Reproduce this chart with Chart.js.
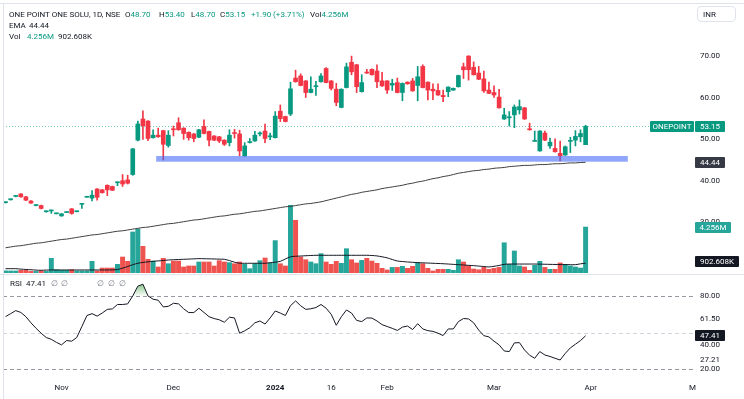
<!DOCTYPE html>
<html>
<head>
<meta charset="utf-8">
<script src="https://cdn.jsdelivr.net/npm/chart.js@4.4.1/dist/chart.umd.min.js"></script>
<style>
body{margin:0;background:#fff;font-family:Roboto,"Noto Sans",sans-serif;}
#wrap{position:relative;width:744px;height:399px;overflow:hidden;background:#fff;}
canvas{position:absolute;left:0;}
.t{position:absolute;font-size:8px;line-height:10px;color:#131722;white-space:nowrap;}
.g{color:#089981;}
.n{color:#787b86;}
.tag{position:absolute;height:11px;line-height:11px;font-size:8px;color:#fff;text-align:center;border-radius:1px;}
.ln{position:absolute;background:#e0e3eb;}
</style>
</head>
<body>
<div id="wrap">
<canvas id="main" width="744" height="274" style="top:0"></canvas>
<canvas id="rsi" width="744" height="125" style="top:274px"></canvas>

<div class="ln" style="left:0;top:3px;width:744px;height:1px"></div>
<div class="ln" style="left:3px;top:3px;width:1px;height:396px"></div>
<div class="ln" style="left:0;top:274px;width:744px;height:1px"></div>

<div class="t" style="left:9px;top:10px">ONE POINT ONE SOLU, 1D, NSE</div>
<div class="t" style="left:125px;top:10px">O<span class="g">48.70</span></div>
<div class="t" style="left:159px;top:10px">H<span class="g">53.40</span></div>
<div class="t" style="left:191px;top:10px">L<span class="g">48.70</span></div>
<div class="t" style="left:220px;top:10px">C<span class="g">53.15</span></div>
<div class="t g" style="left:251px;top:10px">+1.90 (+3.71%)</div>
<div class="t" style="left:310px;top:10px">Vol<span class="g">4.256M</span></div>
<div class="t" style="left:9px;top:21px">EMA</div>
<div class="t" style="left:29px;top:21px">44.44</div>
<div class="t" style="left:9px;top:32px">Vol</div>
<div class="t g" style="left:27px;top:32px">4.256M</div>
<div class="t" style="left:58px;top:32px">902.608K</div>

<div class="t" style="left:10px;top:279px">RSI</div>
<div class="t" style="left:26px;top:279px">47.41</div>
<div class="t n" style="left:51px;top:279px">∅</div>
<div class="t n" style="left:61px;top:279px">∅</div>
<div class="t n" style="left:97px;top:279px">∅</div>
<div class="t n" style="left:108px;top:279px">∅</div>
<div class="t n" style="left:119px;top:279px">∅</div>

<div class="t" style="left:697px;top:6px;width:39px;height:16px;line-height:16px;border:1px solid #e0e3eb;border-radius:4px;padding-left:5px;box-sizing:border-box">INR</div>

<div class="tag" id="tagName" style="left:650px;width:44px;background:#089981">ONEPOINT</div>
<div class="tag" id="tagLast" style="left:695px;width:30px;background:#089981">53.15</div>
<div class="tag" id="tagEma" style="left:695px;width:30px;background:#363a45">44.44</div>
<div class="tag" id="tagVol" style="left:695px;width:36px;background:#26a69a">4.256M</div>
<div class="tag" id="tagVolMa" style="left:695px;width:44px;background:#131722">902.608K</div>
<div class="tag" id="tagRsi" style="left:695px;width:30px;background:#131722">47.41</div>
</div>

<script>
// daily candles, one per trading session (mid Oct 2023 .. end Mar 2024)
const opens = [34.7,35.4,36.2,36.8,36.1,35.1,34.0,34.0,32.5,32.7,
32.0,31.5,32.3,33.2,32.5,34.3,36.0,35.8,38.0,37.8,
38.9,38.6,39.5,40.0,40.2,41.5,49.8,54.9,54.4,50.4,
51.0,52.1,48.5,52.5,54.0,52.7,51.7,51.3,50.5,53.1,
51.9,50.8,50.6,49.8,49.2,51.5,51.3,46.0,49.2,49.6,
51.3,52.0,50.6,50.4,56.8,55.5,56.1,64.8,65.3,64.1,
61.3,62.7,63.9,67.1,64.1,62.1,57.7,62.5,68.6,68.0,
61.5,66.1,66.9,66.5,64.1,64.1,63.1,63.7,61.3,63.8,
64.1,63.0,67.6,63.8,62.1,61.8,60.6,61.5,61.9,62.7,
67.5,70.1,67.4,66.0,64.6,61.9,61.3,60.2,54.9,55.2,
55.9,57.1,57.6,52.4,49.5,47.2,51.5,48.4,47.8,46.6,
46.2,49.5,49.8,50.6,48.7];
const highs = [34.9,35.6,36.4,36.9,36.2,35.2,34.2,34.1,32.7,32.9,
32.2,32.1,32.5,33.3,32.7,34.5,36.2,37.6,38.1,37.9,
39.0,38.7,39.7,41.5,41.3,47.8,54.4,56.9,54.5,52.3,
52.7,52.2,52.1,53.2,55.2,52.8,51.8,51.4,52.4,54.7,
52.0,50.9,50.7,49.9,52.3,52.4,52.2,49.2,50.2,51.9,
51.8,53.7,51.5,56.7,58.3,55.6,63.8,66.7,65.8,64.2,
65.1,64.0,65.9,67.3,64.2,63.5,62.2,68.4,70.1,68.1,
65.6,66.9,67.0,68.0,66.2,64.2,64.5,64.8,63.6,63.9,
64.7,67.6,68.0,63.9,63.4,63.4,61.9,62.7,62.4,65.5,
68.4,70.2,68.7,67.6,66.5,63.8,62.9,62.1,57.5,56.7,
58.3,59.5,57.7,53.9,52.0,52.1,52.0,50.3,50.1,49.6,
48.4,50.5,52.1,52.3,53.4];
const lows = [34.6,35.3,36.1,36.0,35.2,34.5,33.9,33.2,32.4,32.1,
32.0,31.4,32.3,31.9,32.5,33.3,36.0,35.1,35.3,37.0,
36.4,37.6,38.8,38.6,39.2,41.3,49.6,50.0,49.7,50.3,
50.5,45.0,48.1,50.8,52.2,50.0,49.8,49.4,50.4,51.3,
48.4,49.7,49.2,48.5,48.4,50.3,46.0,45.9,49.1,49.5,
50.8,49.2,49.9,50.3,54.3,54.2,55.7,63.8,62.9,60.1,
61.2,60.6,63.8,63.6,61.9,58.1,57.6,62.4,65.6,61.3,
61.4,65.9,65.5,62.5,62.8,61.1,61.8,61.2,59.3,63.3,
61.6,59.3,62.4,59.5,59.6,60.6,59.1,60.3,61.8,62.6,
64.7,64.3,65.5,64.4,61.3,61.0,60.1,57.5,54.8,53.2,
52.8,56.1,54.8,52.2,49.5,47.1,49.7,47.8,46.9,44.8,
46.1,46.8,48.4,49.4,48.7];
const closes = [34.8,35.5,36.3,36.1,35.3,34.6,34.1,33.3,32.6,32.8,
32.1,32.0,32.4,32.1,32.6,34.4,36.1,36.5,36.0,37.1,
37.8,37.7,39.6,39.2,39.4,47.7,53.7,53.3,50.2,51.0,
50.6,48.8,51.0,52.3,52.3,51.4,50.4,50.2,52.3,51.4,
49.8,49.8,49.6,48.8,51.0,51.4,47.2,48.4,49.3,51.0,
51.4,50.2,50.7,55.6,55.0,54.3,62.2,63.9,63.0,61.3,
62.1,62.8,65.3,63.7,62.3,58.9,62.1,67.5,66.3,62.7,
63.7,66.0,65.6,63.9,62.9,61.9,63.5,61.3,63.5,63.4,
61.7,65.1,62.5,61.9,61.7,60.7,60.3,62.6,62.3,65.4,
66.8,66.8,65.6,64.5,61.7,61.1,60.7,57.6,55.9,55.3,
57.8,57.9,54.9,52.3,49.6,52.0,49.8,49.3,47.0,46.0,
48.2,49.6,50.7,51.4,53.15];

// volume in millions and its moving average
const volumes = [0.20,0.19,0.19,0.25,0.25,0.15,0.15,0.19,0.15,1.36,
0.30,0.25,0.25,0.30,0.19,0.19,0.19,1.08,0.19,0.46,
0.46,0.46,0.80,1.48,1.08,3.80,4.07,2.47,1.27,1.11,
0.56,1.36,0.86,1.11,1.11,0.56,0.65,0.65,1.02,1.02,
1.02,0.65,1.14,1.02,0.96,0.86,1.02,0.80,0.40,0.86,
1.14,1.39,0.93,3.00,0.86,0.65,6.27,4.88,1.48,1.23,
1.02,0.86,1.79,1.02,0.80,1.08,0.90,2.25,1.23,0.93,
1.17,1.36,1.11,0.90,0.43,0.28,0.52,0.52,0.62,0.43,
0.62,0.96,0.86,0.43,0.19,0.34,0.34,0.34,0.25,1.23,
1.02,0.68,0.37,0.30,0.52,0.34,0.43,0.52,2.80,0.80,
2.04,0.65,0.56,0.25,0.71,1.08,0.52,0.34,0.34,0.93,
0.80,0.65,0.56,0.46,4.256];
const volMA = [0.40,0.40,0.40,0.36,0.33,0.30,0.27,0.25,0.27,0.28,
0.28,0.28,0.28,0.28,0.28,0.28,0.28,0.28,0.28,0.28,
0.28,0.29,0.32,0.45,0.60,0.77,0.90,0.98,1.03,1.08,
1.12,1.16,1.20,1.23,1.25,1.27,1.29,1.31,1.33,1.32,
1.31,1.30,1.28,1.27,1.15,1.00,0.90,0.90,0.90,0.90,
0.90,0.90,0.95,1.00,1.08,1.30,1.50,1.55,1.57,1.60,
1.62,1.64,1.64,1.64,1.64,1.64,1.64,1.64,1.64,1.64,
1.64,1.64,1.62,1.58,1.50,1.40,1.25,1.11,1.06,1.02,
0.99,0.96,0.94,0.92,0.90,0.88,0.86,0.83,0.80,0.77,
0.74,0.71,0.68,0.64,0.60,0.56,0.62,0.70,0.80,0.83,
0.83,0.83,0.83,0.83,0.83,0.82,0.81,0.80,0.79,0.78,
0.78,0.77,0.77,0.85,0.9026];

const ema = [23.8,24.0,24.2,24.3,24.5,24.7,24.9,25.0,25.2,25.4,
25.6,25.8,25.9,26.1,26.3,26.5,26.7,26.9,27.0,27.2,
27.4,27.6,27.8,27.9,28.1,28.3,28.5,28.7,28.8,29.0,
29.2,29.4,29.6,29.7,29.9,30.1,30.3,30.5,30.6,30.8,
31.0,31.2,31.4,31.5,31.7,31.9,32.0,32.2,32.4,32.6,
32.7,32.9,33.1,33.3,33.5,33.7,33.8,34.0,34.2,34.4,
34.5,34.7,34.9,35.2,35.5,35.8,36.1,36.4,36.7,36.9,
37.2,37.4,37.6,37.8,38.1,38.3,38.5,38.7,38.9,39.2,
39.4,39.7,39.9,40.2,40.5,40.7,41.0,41.2,41.5,41.8,
42.0,42.2,42.4,42.5,42.7,42.8,43.0,43.1,43.2,43.4,
43.5,43.6,43.7,43.7,43.8,43.9,43.9,44.0,44.1,44.1,
44.2,44.3,44.3,44.4,44.44];

const rsiValues = [63.1,65.5,68,66.5,63,58,53.5,49.5,46,44.5,
42,40,43.5,43,46,55,64,65.5,63.5,66,
69,69.4,73,73,73.5,80,88,89.6,80,77.3,
76.5,71,71.5,74,73.5,69.5,66.4,66.4,69.9,66.5,
63,61.5,60.5,58.5,62.6,62,49.5,51.5,54,58,
59.5,57,62,67.7,66,64,72,75.9,72,69,
69.5,70.5,73,70,65,56,63,68.5,66,60,
59,62,61.9,59.5,56.5,55,53.5,51.8,54.5,55.4,
52.5,57.3,53,51.6,51,49.5,47.6,53,53,59,
61.5,61.2,58,52,47.5,46.5,43,40,35,34.5,
41.6,41.8,35.8,31.5,29,34.5,31.7,30.5,29,27.6,
33,37.5,40.5,43.5,47.41];

const futureSlots = 21;
const xTicks = {11:'Nov',33:'Dec',53:'2024',64:'16',75:'Feb',96:'Mar',115:'Apr',135:'M'};
const priceTicks = [30,40,50,60,70];
const rsiTicks = [80,61.5,40,27.21,20];
const rsiLevels = [80,50,20];
const band = {from:29.6, to:122.3, top:45.97, bottom:44.59};
const lastClose = closes[closes.length-1];

Chart.defaults.font.family = 'Roboto';
Chart.defaults.font.size = 8;
Chart.defaults.color = '#131722';

const slots = Array.from({length: closes.length + futureSlots}, (_, i) => i);
const up = closes.map((c, i) => c >= opens[i]);
const candleColors = up.map(u => u ? '#089981' : '#f23645');
const volColors = up.map(u => u ? '#26a69a' : '#ef5350');
const wicks = lows.map((l, i) => [l, highs[i]]);
const bodies = opens.map((o, i) => [o, closes[i]]);

// keep the plot area exactly where the layout padding puts it
function fixWidth(s){ s.width = 49; s.paddingTop = 0; s.paddingBottom = 0; }
function fixHeight(s){ s.height = 22; s.paddingLeft = 0; s.paddingRight = 0; }

const overlay = {
  id:'overlay',
  beforeDatasetsDraw(chart){
    const {ctx, chartArea, scales} = chart;
    const y = Math.round(scales.y.getPixelForValue(lastClose)) + 0.5;
    ctx.save();
    ctx.strokeStyle = 'rgba(8,153,129,0.55)';
    ctx.lineWidth = 1;
    ctx.setLineDash([1,2]);
    ctx.beginPath();
    ctx.moveTo(chartArea.left, y);
    ctx.lineTo(chartArea.right, y);
    ctx.stroke();
    ctx.restore();
  },
  afterDatasetsDraw(chart){
    const {ctx, scales} = chart;
    const x0 = scales.x.getPixelForValue(band.from);
    const x1 = scales.x.getPixelForValue(band.to);
    const y0 = scales.y.getPixelForValue(band.top);
    const y1 = scales.y.getPixelForValue(band.bottom);
    ctx.save();
    ctx.fillStyle = 'rgba(70,107,247,0.6)';
    ctx.fillRect(x0, y0, x1 - x0, y1 - y0);
    ctx.restore();
  }
};

const mainChart = new Chart(document.getElementById('main'), {
  type:'bar',
  data:{
    labels:slots,
    datasets:[
      {type:'line', data:ema, yAxisID:'y', borderColor:'#3d3d3d', borderWidth:1, pointRadius:0, tension:0.3, order:3},
      {type:'line', data:volMA, yAxisID:'vol', borderColor:'#131722', borderWidth:1, pointRadius:0, tension:0.3, order:4},
      {data:volumes, yAxisID:'vol', backgroundColor:volColors, barThickness:4.3, grouped:false, order:5},
      {data:wicks, yAxisID:'y', backgroundColor:candleColors, barThickness:1, grouped:false, order:2},
      {data:bodies, yAxisID:'y', backgroundColor:candleColors, barThickness:4, minBarLength:1, grouped:false, order:1}
    ]
  },
  options:{
    responsive:false,
    animation:false,
    layout:{autoPadding:false, padding:{left:3, top:4, right:0, bottom:1}},
    plugins:{legend:{display:false}, tooltip:{enabled:false}},
    scales:{
      x:{display:false, offset:true, grid:{display:false}},
      y:{
        position:'right', min:17.71, max:82.68,
        afterFit:fixWidth,
        afterBuildTicks(s){ s.ticks = priceTicks.map(v => ({value:v})); },
        ticks:{padding:5, callback:v => v.toFixed(2)},
        grid:{display:false, drawTicks:false},
        border:{display:false}
      },
      vol:{display:false, min:0, max:24.9}
    }
  },
  plugins:[overlay]
});

const rsiBands = {
  id:'rsiBands',
  beforeDatasetsDraw(chart){
    const {ctx, chartArea, scales} = chart;
    ctx.save();
    ctx.lineWidth = 1;
    ctx.setLineDash([4,3]);
    rsiLevels.forEach(v => {
      const y = Math.round(scales.y.getPixelForValue(v)) + 0.5;
      ctx.strokeStyle = v === 50 ? '#d1d4dc' : '#9598a1';
      ctx.beginPath();
      ctx.moveTo(chartArea.left, y);
      ctx.lineTo(chartArea.right, y);
      ctx.stroke();
    });
    ctx.restore();
  }
};

const rsiChart = new Chart(document.getElementById('rsi'), {
  type:'line',
  data:{
    labels:slots,
    datasets:[{
      data:rsiValues,
      borderColor:'#131722',
      borderWidth:1,
      pointRadius:0,
      tension:0,
      fill:{target:{value:80}, below:'rgba(0,0,0,0)'},
      backgroundColor(c){
        const chart = c.chart;
        if (!chart.chartArea) return 'rgba(76,175,80,0.3)';
        const s = chart.scales.y;
        const g = chart.ctx.createLinearGradient(0, s.getPixelForValue(90), 0, s.getPixelForValue(80));
        g.addColorStop(0, 'rgba(67,160,71,0.65)');
        g.addColorStop(1, 'rgba(76,175,80,0.04)');
        return g;
      }
    }]
  },
  options:{
    responsive:false,
    animation:false,
    layout:{autoPadding:false, padding:{left:3, top:2, right:0, bottom:0}},
    plugins:{legend:{display:false}, tooltip:{enabled:false}},
    scales:{
      x:{
        offset:true,
        afterFit:fixHeight,
        grid:{display:false, drawTicks:false},
        border:{display:false},
        ticks:{
          autoSkip:false, maxRotation:0, padding:6,
          callback:(v, i) => xTicks[i] || '',
          font:c => ({family:'Roboto', size:8, weight: xTicks[c.index] === '2024' ? 'bold' : 'normal'})
        }
      },
      y:{
        position:'right', min:13.7, max:96.3,
        afterFit:fixWidth,
        afterBuildTicks(s){ s.ticks = rsiTicks.map(v => ({value:v})); },
        ticks:{padding:5, callback:v => v.toFixed(2)},
        grid:{display:false, drawTicks:false},
        border:{display:false}
      }
    }
  },
  plugins:[rsiBands]
});

// price scale tags follow the scales
function placeTag(id, top){ document.getElementById(id).style.top = (top - 5.5) + 'px'; }
const py = mainChart.scales.y, pv = mainChart.scales.vol;
placeTag('tagName', py.getPixelForValue(lastClose));
placeTag('tagLast', py.getPixelForValue(lastClose));
placeTag('tagEma', py.getPixelForValue(ema[ema.length-1]));
placeTag('tagVol', pv.getPixelForValue(volumes[volumes.length-1]));
placeTag('tagVolMa', pv.getPixelForValue(volMA[volMA.length-1]) - 2);
placeTag('tagRsi', 274 + rsiChart.scales.y.getPixelForValue(rsiValues[rsiValues.length-1]));
</script>
</body>
</html>
